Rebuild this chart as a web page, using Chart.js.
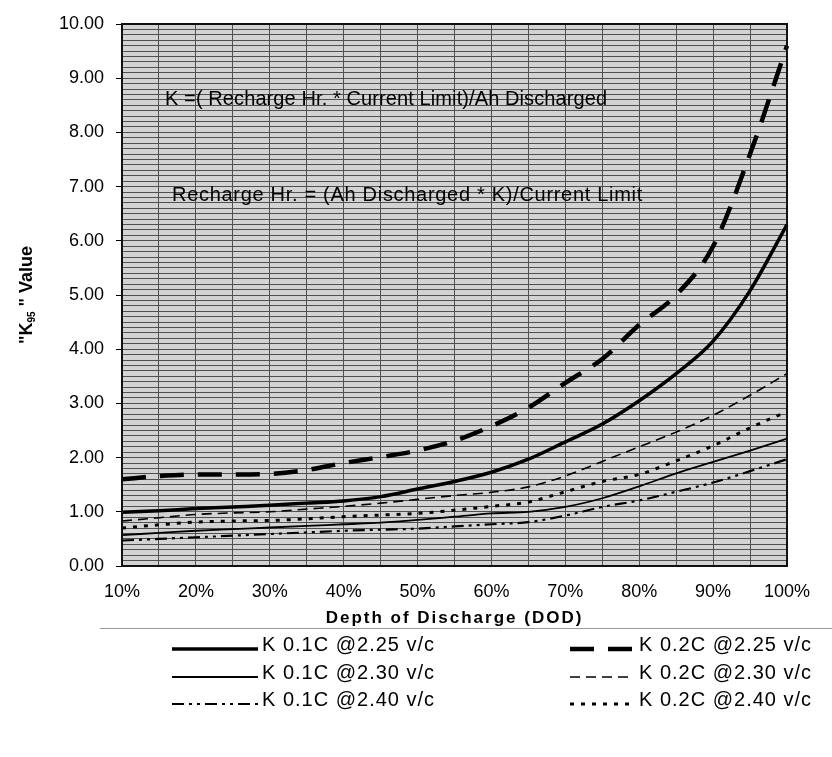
<!DOCTYPE html>
<html>
<head>
<meta charset="utf-8">
<script src="https://cdn.jsdelivr.net/npm/chart.js@4.4.1/dist/chart.umd.min.js"></script>
<style>
  html, body { margin: 0; padding: 0; background: #fff; }
  #wrap { position: relative; width: 832px; height: 757px; }
</style>
</head>
<body>
<div id="wrap"><canvas id="chart-k95"></canvas></div>
<script>
// ─── Data ──────────────────────────────────────

const dod = ['10%', '15%', '20%', '25%', '30%', '35%', '40%', '45%', '50%', '55%',
             '60%', '65%', '70%', '75%', '80%', '85%', '90%', '95%', '100%'];

const k01c225 = [0.99, 1.02, 1.06, 1.09, 1.12, 1.16, 1.20, 1.28, 1.42, 1.56,
                 1.73, 1.97, 2.29, 2.62, 3.05, 3.55, 4.15, 5.08, 6.30];
const k01c230 = [0.57, 0.61, 0.65, 0.68, 0.71, 0.74, 0.77, 0.80, 0.85, 0.91,
                 0.97, 1.00, 1.09, 1.25, 1.47, 1.71, 1.92, 2.13, 2.35];
const k01c240 = [0.47, 0.50, 0.53, 0.56, 0.59, 0.62, 0.65, 0.67, 0.69, 0.73,
                 0.77, 0.81, 0.93, 1.09, 1.21, 1.37, 1.54, 1.75, 1.97];
const k02c225 = [1.60, 1.66, 1.69, 1.69, 1.70, 1.77, 1.90, 2.01, 2.13, 2.31,
                 2.58, 2.92, 3.38, 3.82, 4.45, 5.00, 5.90, 7.60, 9.60];
const k02c230 = [0.83, 0.89, 0.95, 0.98, 1.00, 1.05, 1.10, 1.16, 1.23, 1.30,
                 1.36, 1.46, 1.66, 1.93, 2.20, 2.47, 2.78, 3.15, 3.55];
const k02c240 = [0.70, 0.76, 0.81, 0.83, 0.84, 0.87, 0.91, 0.94, 0.97, 1.03,
                 1.10, 1.18, 1.37, 1.56, 1.69, 1.94, 2.22, 2.55, 2.85];

const seriesNames = ['K 0.1C @2.25 v/c', 'K 0.1C @2.30 v/c', 'K 0.1C @2.40 v/c',
                     'K 0.2C @2.25 v/c', 'K 0.2C @2.30 v/c', 'K 0.2C @2.40 v/c'];

const notes = ['K =( Recharge Hr. * Current Limit)/Ah Discharged',
               'Recharge Hr. = (Ah Discharged * K)/Current Limit'];
const noteValues = [8.60, 6.83];   // y position of each note, in K units

const FONT = "'Liberation Sans', Arial, sans-serif";
Chart.defaults.font.family = FONT;
Chart.defaults.color = '#000';

// ─── Plugins ───────────────────────────────────

const plotBg = {
  id: 'plotBg',
  beforeDraw(chart) {
    const { ctx, chartArea: a } = chart;
    ctx.save();
    ctx.fillStyle = '#d3d3d3';
    ctx.fillRect(a.left, a.top, a.right - a.left, a.bottom - a.top);
    ctx.restore();
  },
  afterDatasetsDraw(chart) {
    const { ctx, chartArea: a } = chart;
    ctx.save();
    ctx.strokeStyle = '#111';
    ctx.lineWidth = 2;
    ctx.strokeRect(a.left, a.top, a.right - a.left, a.bottom - a.top);
    ctx.restore();
  }
};

const extras = {
  id: 'extras',
  afterDraw(chart) {
    const { ctx, chartArea: a, scales } = chart;
    ctx.save();

    // notes inside the plot
    ctx.font = `20px ${FONT}`;
    ctx.fillStyle = '#000';
    ctx.textBaseline = 'middle';
    ctx.textAlign = 'left';
    ctx.letterSpacing = '0.1px';
    ctx.fillText(notes[0], a.left + 43, scales.y.getPixelForValue(noteValues[0]));
    ctx.letterSpacing = '0.7px';
    ctx.fillText(notes[1], a.left + 50, scales.y.getPixelForValue(noteValues[1]));

    // x axis title
    ctx.font = `bold 17px ${FONT}`;
    ctx.letterSpacing = '2px';
    ctx.textAlign = 'center';
    ctx.fillText('Depth of Discharge (DOD)', (a.left + a.right) / 2, 618);
    ctx.letterSpacing = '0px';

    // y axis title with subscript
    const parts = [
      { t: '"K', f: `bold 18px ${FONT}`, dy: 0 },
      { t: '95', f: `bold 10px ${FONT}`, dy: 5 },
      { t: ' " Value', f: `bold 18px ${FONT}`, dy: 0 },
    ];
    let total = 0;
    parts.forEach(p => { ctx.font = p.f; p.w = ctx.measureText(p.t).width; total += p.w; });
    ctx.translate(27, (a.top + a.bottom) / 2);
    ctx.rotate(-Math.PI / 2);
    ctx.textAlign = 'left';
    let x = -total / 2;
    parts.forEach(p => { ctx.font = p.f; ctx.fillText(p.t, x, p.dy); x += p.w; });
    ctx.restore();

    // legend
    ctx.save();
    ctx.strokeStyle = '#9a9a9a';
    ctx.lineWidth = 1;
    ctx.beginPath();
    ctx.moveTo(100, 628.5);
    ctx.lineTo(832, 628.5);
    ctx.stroke();

    const rowsY = [645, 673, 700];
    const cols = [
      { x0: 172, x1: 258, tx: 262 },
      { x0: 570, x1: 633, tx: 639 },
    ];
    ctx.font = `20px ${FONT}`;
    ctx.letterSpacing = '1px';
    ctx.textBaseline = 'middle';
    ctx.fillStyle = '#000';
    chart.data.datasets.forEach((ds, i) => {
      const c = cols[Math.floor(i / 3)];
      const y = rowsY[i % 3];
      ctx.strokeStyle = ds.borderColor;
      ctx.lineWidth = ds.borderWidth;
      ctx.setLineDash(ds.borderDash || []);
      ctx.beginPath();
      ctx.moveTo(c.x0, y + 4);
      ctx.lineTo(c.x1, y + 4);
      ctx.stroke();
      ctx.fillText(ds.label, c.tx, y);
    });
    ctx.restore();
  }
};

// ─── Chart ─────────────────────────────────────

const styles = [
  { borderWidth: 3.5, borderDash: [] },
  { borderWidth: 1.8, borderDash: [] },
  { borderWidth: 2.2, borderDash: [12, 5, 3, 5, 3, 5] },
  { borderWidth: 4.5, borderDash: [24, 14] },
  { borderWidth: 1.6, borderDash: [10, 6] },
  { borderWidth: 3, borderDash: [4, 7] },
];
const seriesData = [k01c225, k01c230, k01c240, k02c225, k02c230, k02c240];

const isMajor = v => Math.abs(v - Math.round(v)) < 1e-6;

new Chart(document.getElementById('chart-k95'), {
  type: 'line',
  data: {
    labels: dod,
    datasets: seriesData.map((d, i) => ({
      label: seriesNames[i],
      data: d,
      borderColor: '#000',
      borderWidth: styles[i].borderWidth,
      borderDash: styles[i].borderDash,
      cubicInterpolationMode: 'monotone',
      pointRadius: 0,
      fill: false,
    })),
  },
  options: {
    responsive: true,
    maintainAspectRatio: false,
    animation: false,
    layout: { padding: { top: 24, right: 45, left: 0, bottom: 0 } },
    plugins: { legend: { display: false }, tooltip: { enabled: false } },
    scales: {
      x: {
        afterFit(scale) { scale.height = 191; },
        ticks: {
          autoSkip: false, maxRotation: 0, padding: 15,
          font: { size: 18 },
          callback(v, i) { return i % 2 === 0 ? this.getLabelForValue(v) : ''; },
        },
        grid: { color: '#505050', lineWidth: 1, drawTicks: false },
        border: { display: false },
      },
      y: {
        min: 0, max: 10,
        afterFit(scale) { scale.width = 122; },
        ticks: {
          stepSize: 0.1, maxTicksLimit: 200, autoSkip: false, padding: 12,
          font: { size: 18 },
          callback: v => (isMajor(v) ? v.toFixed(2) : ''),
        },
        grid: {
          color: '#505050', lineWidth: 1, tickLength: 6,
          tickColor: ctx => (ctx.tick && isMajor(ctx.tick.value) ? '#000' : 'rgba(0,0,0,0)'),
        },
        border: { display: false },
      },
    },
  },
  plugins: [plotBg, extras],
});
</script>
</body>
</html>
